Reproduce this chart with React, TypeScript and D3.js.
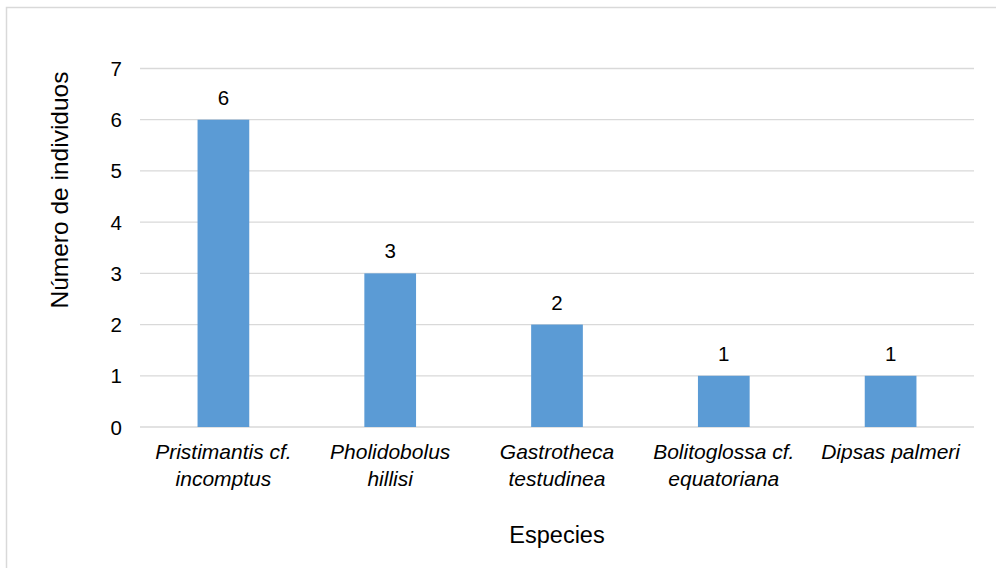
import React, { useEffect, useRef } from 'react';
import * as d3 from 'd3';

const species = [
  ['Pristimantis cf.', 'incomptus'],
  ['Pholidobolus', 'hillisi'],
  ['Gastrotheca', 'testudinea'],
  ['Bolitoglossa cf.', 'equatoriana'],
  ['Dipsas palmeri'],
];
const counts = [6, 3, 2, 1, 1];
const yTicks = [0, 1, 2, 3, 4, 5, 6, 7];

export default function App() {
  const svgRef = useRef<SVGSVGElement | null>(null);

  useEffect(() => {
    if (!svgRef.current) return;
    const svg = d3.select(svgRef.current);
    svg.selectAll('*').remove();

    const width = 996;
    const height = 568;
    const margin = { top: 68.5, right: 22, bottom: 141, left: 140 };
    const font = '"Liberation Sans", Arial, sans-serif';

    // chart area border
    svg.append('rect')
      .attr('x', 6.5).attr('y', 7.5)
      .attr('width', 1000).attr('height', 600)
      .attr('fill', '#fff').attr('stroke', '#d9d9d9').attr('stroke-width', 1.5);

    const labels = species.map(s => s.join(' '));
    const x = d3.scaleBand()
      .domain(labels)
      .range([margin.left, width - margin.right])
      .paddingInner(0.69).paddingOuter(0.345);

    const y = d3.scaleLinear()
      .domain([0, 7])
      .range([height - margin.bottom, margin.top]);

    svg.append('g')
      .selectAll('line')
      .data(yTicks)
      .enter().append('line')
      .attr('x1', margin.left).attr('x2', width - margin.right)
      .attr('y1', d => y(d)).attr('y2', d => y(d))
      .attr('stroke', '#d9d9d9').attr('stroke-width', 1.3);

    svg.append('g')
      .selectAll('text')
      .data(yTicks)
      .enter().append('text')
      .attr('x', margin.left - 18)
      .attr('y', d => y(d) + 7.5)
      .attr('text-anchor', 'end')
      .attr('font-family', font).attr('font-size', 20.5)
      .attr('fill', '#000')
      .text(d => d);

    svg.append('g')
      .selectAll('rect')
      .data(counts)
      .enter().append('rect')
      .attr('x', (d, i) => x(labels[i]) || 0)
      .attr('y', d => y(d))
      .attr('width', x.bandwidth())
      .attr('height', d => y(0) - y(d))
      .attr('fill', '#5b9bd5');

    svg.append('g')
      .selectAll('text')
      .data(counts)
      .enter().append('text')
      .attr('x', (d, i) => (x(labels[i]) || 0) + x.bandwidth() / 2)
      .attr('y', d => y(d) - 15)
      .attr('text-anchor', 'middle')
      .attr('font-family', font).attr('font-size', 20.5)
      .attr('fill', '#000')
      .text(d => d);

    const cat = svg.append('g')
      .selectAll('text')
      .data(species)
      .enter().append('text')
      .attr('x', (d, i) => (x(labels[i]) || 0) + x.bandwidth() / 2)
      .attr('y', 459)
      .attr('text-anchor', 'middle')
      .attr('font-family', font).attr('font-size', 21)
      .attr('font-style', 'italic')
      .attr('fill', '#000');
    cat.selectAll('tspan')
      .data(d => d)
      .enter().append('tspan')
      .attr('x', function () { return (this.parentNode as SVGTextElement).getAttribute('x'); })
      .attr('dy', (d, i) => (i === 0 ? 0 : 27))
      .text(d => d);

    svg.append('text')
      .attr('x', (margin.left + width - margin.right) / 2)
      .attr('y', 543)
      .attr('text-anchor', 'middle')
      .attr('font-family', font).attr('font-size', 23.5)
      .attr('fill', '#000')
      .text('Especies');

    svg.append('text')
      .attr('transform', 'translate(68,190) rotate(-90)')
      .attr('text-anchor', 'middle')
      .attr('font-family', font).attr('font-size', 24.5)
      .attr('fill', '#000')
      .text('Número de individuos');
  }, []);

  return (
    <svg ref={svgRef} width={996} height={568}
      style={{ position: 'absolute', left: 0, top: 0 }} />
  );
}
